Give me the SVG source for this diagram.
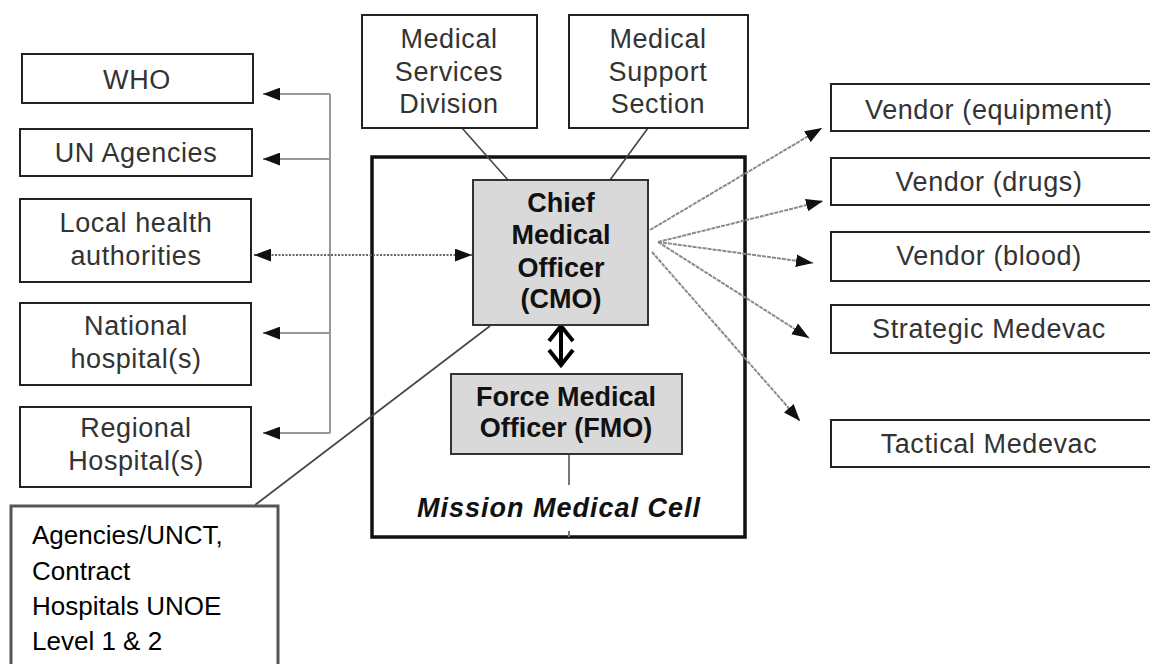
<svg xmlns="http://www.w3.org/2000/svg" width="1150" height="664" viewBox="0 0 1150 664">
  <style>
    .box { fill: #ffffff; stroke: #222; stroke-width: 2; }
    .grey { fill: #d9d9d9; stroke: #333; stroke-width: 2; }
    .lbl { font-family: "Liberation Sans", Arial, sans-serif; font-size: 27px; fill: #333; text-anchor: middle; letter-spacing: 0.6px; }
    .bold { font-family: "Liberation Sans", Arial, sans-serif; font-size: 27px; font-weight: bold; fill: #111; text-anchor: middle; }
    .note { font-family: "Liberation Sans", Arial, sans-serif; font-size: 26px; fill: #000; }
    .bus { fill: none; stroke: #999; stroke-width: 2; }
    .ray { fill: none; stroke: #8a8a8a; stroke-width: 2; stroke-dasharray: 4 1; }
    .dot { fill: none; stroke: #666; stroke-width: 2; stroke-dasharray: 2 1.5; }
    .link { fill: none; stroke: #444; stroke-width: 1.6; }
  </style>
  <defs>
    <marker id="tri" viewBox="0 0 16 12" refX="16" refY="6" markerWidth="17" markerHeight="13" markerUnits="userSpaceOnUse" orient="auto-start-reverse">
      <path d="M0,0 L16,6 L0,12 z" fill="#111"/>
    </marker>
  </defs>
  <rect width="1150" height="664" fill="#ffffff"/>

  <!-- Mission medical cell frame -->
  <g id="cell">
    <rect x="372" y="157" width="373" height="380" fill="none" stroke="#111" stroke-width="3.5"/>
    <text x="559" y="517" font-family="Liberation Sans, Arial, sans-serif" font-size="27" font-weight="bold" font-style="italic" fill="#111" text-anchor="middle" letter-spacing="1">Mission Medical Cell</text>
  </g>

  <!-- connectors -->
  <g id="connectors">
    <!-- left distribution bus -->
    <path class="bus" d="M330,94 V433"/>
    <line class="bus" x1="330" y1="94" x2="263" y2="94" marker-end="url(#tri)"/>
    <line class="bus" x1="330" y1="159" x2="263" y2="159" marker-end="url(#tri)"/>
    <line class="bus" x1="330" y1="333" x2="263" y2="333" marker-end="url(#tri)"/>
    <line class="bus" x1="330" y1="433" x2="263" y2="433" marker-end="url(#tri)"/>
    <!-- local health authorities two-way -->
    <line class="dot" x1="254" y1="255" x2="472" y2="255" marker-start="url(#tri)" marker-end="url(#tri)"/>
    <!-- headquarters links -->
    <line class="link" x1="462" y1="128" x2="508" y2="180"/>
    <line class="link" x1="648" y1="128" x2="610" y2="180"/>
    <!-- agencies link -->
    <line class="link" x1="255" y1="505" x2="490" y2="326"/>
    <!-- CMO to vendors and medevac -->
    <line class="ray" x1="650" y1="230" x2="822" y2="128" marker-end="url(#tri)"/>
    <line class="ray" x1="658" y1="242" x2="823" y2="201" marker-end="url(#tri)"/>
    <line class="ray" x1="658" y1="242" x2="813" y2="263" marker-end="url(#tri)"/>
    <line class="ray" x1="658" y1="242" x2="809" y2="338" marker-end="url(#tri)"/>
    <line class="ray" x1="652" y1="252" x2="800" y2="421" marker-end="url(#tri)"/>
    <!-- CMO / FMO two-way -->
    <path d="M561,327 V364 M549,341 L561,326 L573,341 M549,350 L561,365 L573,350" fill="none" stroke="#000" stroke-width="4" stroke-linejoin="miter"/>
    <!-- FMO stem -->
    <line x1="569" y1="454" x2="569" y2="485" stroke="#777" stroke-width="2"/>
    <line x1="569" y1="531" x2="569" y2="537" stroke="#777" stroke-width="2"/>
  </g>

  <!-- left side partners -->
  <g id="who">
    <rect class="box" x="22" y="54" width="231" height="49"/>
    <text class="lbl" x="137" y="89">WHO</text>
  </g>
  <g id="un-agencies">
    <rect class="box" x="20" y="129" width="232" height="47"/>
    <text class="lbl" x="136" y="162">UN Agencies</text>
  </g>
  <g id="local-health">
    <rect class="box" x="20" y="199" width="231" height="83"/>
    <text class="lbl" x="136" y="232">Local health</text>
    <text class="lbl" x="136" y="265">authorities</text>
  </g>
  <g id="national-hospitals">
    <rect class="box" x="20" y="303" width="231" height="82"/>
    <text class="lbl" x="136" y="335">National</text>
    <text class="lbl" x="136" y="368">hospital(s)</text>
  </g>
  <g id="regional-hospitals">
    <rect class="box" x="20" y="407" width="231" height="80"/>
    <text class="lbl" x="136" y="437">Regional</text>
    <text class="lbl" x="136" y="470">Hospital(s)</text>
  </g>

  <!-- agencies note -->
  <g id="agencies">
    <rect x="11" y="506" width="267" height="170" fill="#ffffff" stroke="#555" stroke-width="3"/>
    <text class="note" x="32" y="544">Agencies/UNCT,</text>
    <text class="note" x="32" y="580">Contract</text>
    <text class="note" x="32" y="615">Hospitals UNOE</text>
    <text class="note" x="32" y="650">Level 1 &amp; 2</text>
  </g>

  <!-- headquarters -->
  <g id="medical-services-division">
    <rect class="box" x="362" y="15" width="175" height="113"/>
    <text class="lbl" x="449" y="48">Medical</text>
    <text class="lbl" x="449" y="81">Services</text>
    <text class="lbl" x="449" y="113">Division</text>
  </g>
  <g id="medical-support-section">
    <rect class="box" x="569" y="15" width="179" height="113"/>
    <text class="lbl" x="658" y="48">Medical</text>
    <text class="lbl" x="658" y="81">Support</text>
    <text class="lbl" x="658" y="113">Section</text>
  </g>

  <!-- mission medical officers -->
  <g id="cmo">
    <rect class="grey" x="473" y="180" width="175" height="145"/>
    <text class="bold" x="561" y="212">Chief</text>
    <text class="bold" x="561" y="244">Medical</text>
    <text class="bold" x="561" y="277">Officer</text>
    <text class="bold" x="561" y="308">(CMO)</text>
  </g>
  <g id="fmo">
    <rect class="grey" x="451" y="374" width="231" height="80"/>
    <text class="bold" x="566" y="406">Force Medical</text>
    <text class="bold" x="566" y="437">Officer (FMO)</text>
  </g>

  <!-- right side providers -->
  <g id="vendor-equipment">
    <rect class="box" x="831" y="84" width="330" height="47"/>
    <text class="lbl" x="989" y="119">Vendor (equipment)</text>
  </g>
  <g id="vendor-drugs">
    <rect class="box" x="831" y="158" width="330" height="47"/>
    <text class="lbl" x="989" y="191">Vendor (drugs)</text>
  </g>
  <g id="vendor-blood">
    <rect class="box" x="831" y="232" width="330" height="49"/>
    <text class="lbl" x="989" y="265">Vendor (blood)</text>
  </g>
  <g id="strategic-medevac">
    <rect class="box" x="831" y="305" width="330" height="48"/>
    <text class="lbl" x="989" y="338">Strategic Medevac</text>
  </g>
  <g id="tactical-medevac">
    <rect class="box" x="831" y="420" width="330" height="47"/>
    <text class="lbl" x="989" y="453">Tactical Medevac</text>
  </g>
</svg>
